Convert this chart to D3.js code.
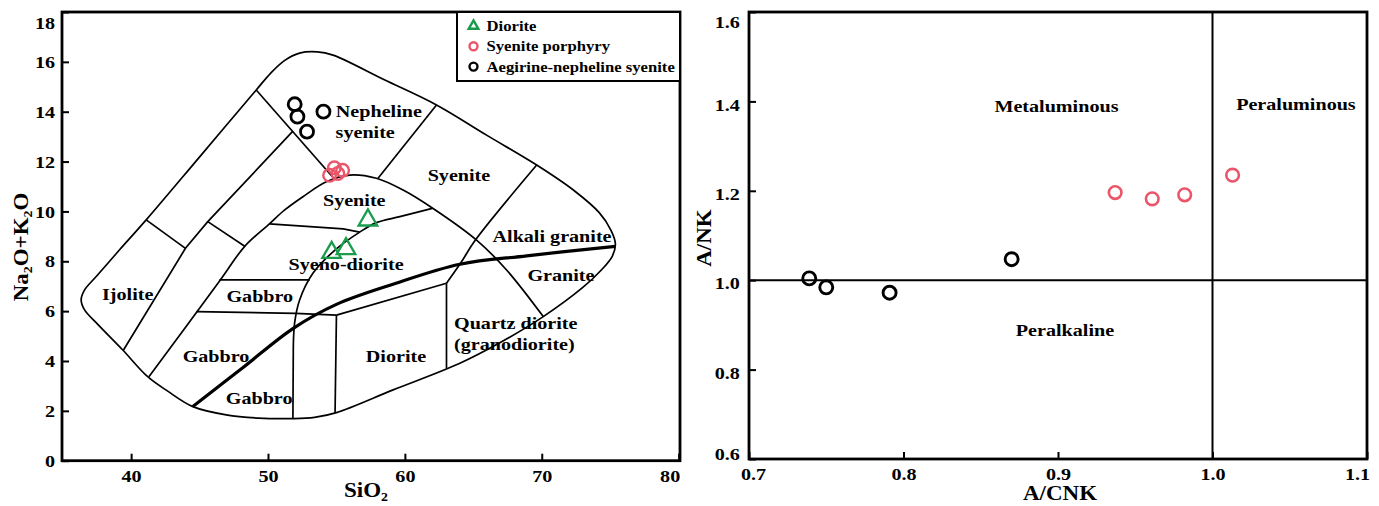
<!DOCTYPE html>
<html>
<head>
<meta charset="utf-8">
<script src="https://cdn.jsdelivr.net/npm/d3@7"></script>
<style>
body { margin: 0; background: #fff; }
text { font-family: "Liberation Serif", "Times New Roman", serif; font-weight: bold; fill: #000; }
</style>
</head>
<body>
<div id="chart"></div>
<script>
const width = 1379, height = 506;
const stretch = 1.15; // the source figure is a bit wider than tall

// ---- samples, TAS diagram (SiO2, Na2O+K2O)
const dioriteTAS = [[57.3, 9.65], [54.65, 8.35], [55.7, 8.5]];
const porphyryTAS = [[54.5, 11.45], [54.85, 11.75], [55.45, 11.65], [55.1, 11.52]];
const aegirineTAS = [[51.95, 14.3], [52.15, 13.8], [52.85, 13.2], [54.05, 14.0]];

// ---- samples, A/CNK vs A/NK
const porphyryACNK = [[0.937, 1.196], [0.961, 1.182], [0.982, 1.191], [1.013, 1.235]];
const aegirineACNK = [[0.739, 1.004], [0.750, 0.984], [0.791, 0.972], [0.870, 1.047]];

// ---- tick labels
const tasXTicks = [40, 50, 60, 70, 80];
const tasYTicks = [0, 2, 4, 6, 8, 10, 12, 14, 16, 18];
const acnkXTicks = [0.7, 0.8, 0.9, 1.0, 1.1];
const acnkYTicks = [0.6, 0.8, 1.0, 1.2, 1.4, 1.6];

// ---- TAS field boundaries (plutonic, Wilson 1989)
const outerBoundary = [[49.14,14.87],[50.2,15.55],[51.2,16.05],[52.3,16.35],[53.6,16.4],[54.75,16.27],[58.5,15.28],[62.31,14.27],[66.0,13.05],[69.63,11.86],[72.4,10.82],[74.2,9.95],[75.05,9.25],[75.38,8.7],[75.15,8.2],[74.3,7.62],[73.0,6.95],[70.11,5.78],[67.0,4.75],[64.02,3.91],[59.14,2.84],[55.0,1.93],[53.4,1.74],[51.82,1.69],[49.3,1.71],[46.95,1.84],[44.51,2.17],[42.7,2.78],[41.21,3.37],[39.39,4.44],[37.6,5.45],[36.6,6.05],[36.35,6.45],[36.6,6.85],[37.5,7.42],[39.14,8.45],[41.1,9.66],[45.1,12.25]];
const dome = [[70.11,5.78],[67.43,7.65],[65.24,8.85],[62.06,10.12],[59.87,10.86],[57.92,11.33],[55.97,11.46],[54.26,11.19],[52.55,10.59],[51.2,10.05],[50.1,9.5],[48.3,8.6],[46.45,7.2],[41.3,3.37]];
const syenoDioriteCurve = [[62.0,10.12],[59.63,9.79],[57.92,9.55],[56.7,9.17],[55.0,8.5],[53.28,7.52],[52.31,6.45],[51.95,5.55],[51.85,4.6]];
const straightLines = [
  [[49.14,14.87],[54.85,11.3]],
  [[62.31,14.27],[58.04,11.33]],
  [[51.82,13.22],[45.6,9.59],[43.97,8.52],[39.42,4.42]],
  [[41.1,9.66],[43.97,8.52]],
  [[45.6,9.59],[48.3,8.6]],
  [[50.1,9.5],[55.5,9.3],[56.7,9.17]],
  [[46.45,7.25],[53.05,7.25]],
  [[44.78,5.98],[52.0,5.91],[55.0,5.84]],
  [[55.0,5.84],[54.9,1.93]],
  [[55.0,5.84],[63.04,7.12]],
  [[63.04,7.12],[63.04,3.7]],
  [[51.85,4.6],[51.82,1.69]]
];
const alkaliGraniteLine = [[69.63,11.86],[65.15,8.85],[64.1,7.95],[63.04,7.12]];
const alkalineDivider = [[44.51,2.17],[48.2,3.75],[51.82,5.3],[55.0,6.27],[59.14,7.08],[64.02,7.88],[68.9,8.22],[75.38,8.6]];

const tasFieldLabels = [
  {t: "Nepheline", x: 58.1, y: 14.02}, {t: "syenite", x: 57.1, y: 13.2},
  {t: "Syenite", x: 63.95, y: 11.47}, {t: "Syenite", x: 56.3, y: 10.45},
  {t: "Alkali granite", x: 70.75, y: 9.0}, {t: "Granite", x: 71.4, y: 7.47},
  {t: "Syeno-diorite", x: 55.7, y: 7.9}, {t: "Gabbro", x: 49.4, y: 6.6},
  {t: "Ijolite", x: 39.75, y: 6.7}, {t: "Gabbro", x: 46.2, y: 4.2},
  {t: "Gabbro", x: 49.35, y: 2.53}, {t: "Diorite", x: 59.35, y: 4.2},
  {t: "Quartz diorite", x: 68.1, y: 5.52}, {t: "(granodiorite)", x: 68.0, y: 4.69}
];
const acnkFieldLabels = [
  {t: "Metaluminous", x: 0.899, y: 1.39}, {t: "Peraluminous", x: 1.054, y: 1.395},
  {t: "Peralkaline", x: 0.9045, y: 0.888}
];

const legendItems = [
  {name: "Diorite", kind: "triangle", color: "#1a9c4c"},
  {name: "Syenite porphyry", kind: "circle", color: "#ea5569"},
  {name: "Aegirine-nepheline syenite", kind: "circle", color: "#000"}
];
const colorOf = Object.fromEntries(legendItems.map(d => [d.name, d.color]));

const svg = d3.select("#chart").append("svg").attr("width", width).attr("height", height);

function label(g, x, y, s, size, anchor = "middle", rot = 0) {
  return g.append("text")
    .attr("transform", `translate(${x},${y}) rotate(${rot}) scale(${stretch},1)`)
    .attr("text-anchor", anchor).attr("dy", "0.35em").attr("font-size", size).text(s);
}

function styleAxis(g) {
  g.select(".domain").remove();
  g.attr("font-family", null).attr("font-size", 17.5);
  g.selectAll(".tick line").attr("stroke", "#000").attr("stroke-width", 2);
  g.selectAll(".tick text").attr("fill", "#000").attr("transform", `scale(${stretch},1)`);
}

// ============ left: TAS ============
const x1 = d3.scaleLinear().domain([34.95, 80.1]).range([62, 680]);
const y1 = d3.scaleLinear().domain([0, 18]).range([460.7, 12]);
const tas = svg.append("g");

const line1 = d3.line().x(d => x1(d[0])).y(d => y1(d[1]));
tas.append("path").attr("d", line1.curve(d3.curveCatmullRomClosed.alpha(0.5))(outerBoundary))
  .attr("fill", "none").attr("stroke", "#000").attr("stroke-width", 1.7);
[dome, syenoDioriteCurve, alkaliGraniteLine].forEach(l => {
  tas.append("path").attr("d", line1.curve(d3.curveCatmullRom.alpha(0.5))(l))
    .attr("fill", "none").attr("stroke", "#000").attr("stroke-width", 1.7);
});
straightLines.forEach(l => {
  tas.append("path").attr("d", line1.curve(d3.curveLinear)(l))
    .attr("fill", "none").attr("stroke", "#000").attr("stroke-width", 1.7);
});
tas.append("path").attr("d", line1.curve(d3.curveCatmullRom.alpha(0.5))(alkalineDivider))
  .attr("fill", "none").attr("stroke", "#000").attr("stroke-width", 3.2);

tasFieldLabels.forEach(d => label(tas, x1(d.x), y1(d.y), d.t, 17.5));

// axes
const gx1 = tas.append("g").attr("transform", "translate(0,460.7)")
  .call(d3.axisBottom(x1).tickValues(tasXTicks).tickFormat(d3.format("d")).tickSizeInner(-7).tickSizeOuter(0).tickPadding(9));
styleAxis(gx1);
gx1.selectAll(".tick text").filter(d => d === 80).attr("transform", `translate(-9,0) scale(${stretch},1)`);
const gy1 = tas.append("g").attr("transform", "translate(62,0)")
  .call(d3.axisLeft(y1).tickValues(tasYTicks).tickFormat(d3.format("d")).tickSizeInner(-7).tickSizeOuter(0).tickPadding(6));
styleAxis(gy1);
gy1.selectAll(".tick text").filter(d => d === 18).attr("transform", `translate(0,11) scale(${stretch},1)`);

tas.append("rect").attr("x", 62).attr("y", 12).attr("width", 618).attr("height", 448.7)
  .attr("fill", "none").attr("stroke", "#000").attr("stroke-width", 2.8);

// points
const tri = d3.symbol(d3.symbolTriangle, 150);
tas.selectAll(".dio").data(dioriteTAS).join("path")
  .attr("d", tri).attr("transform", d => `translate(${x1(d[0])},${y1(d[1])})`)
  .attr("fill", "none").attr("stroke", colorOf["Diorite"]).attr("stroke-width", 2.3);
tas.selectAll(".por").data(porphyryTAS).join("circle")
  .attr("cx", d => x1(d[0])).attr("cy", d => y1(d[1])).attr("r", 6.3)
  .attr("fill", "none").attr("stroke", colorOf["Syenite porphyry"]).attr("stroke-width", 2.4);
tas.selectAll(".aeg").data(aegirineTAS).join("circle")
  .attr("cx", d => x1(d[0])).attr("cy", d => y1(d[1])).attr("r", 6.5)
  .attr("fill", "none").attr("stroke", colorOf["Aegirine-nepheline syenite"]).attr("stroke-width", 2.8);

// axis titles
const t1 = tas.append("text").attr("transform", `translate(366,497) scale(${stretch},1)`)
  .attr("text-anchor", "middle").attr("font-size", 20);
t1.append("tspan").text("SiO");
t1.append("tspan").text("2").attr("font-size", 12).attr("dy", 4);
const t2 = tas.append("text").attr("transform", `translate(28,247) rotate(-90) scale(${stretch},1)`)
  .attr("text-anchor", "middle").attr("font-size", 20);
t2.append("tspan").text("Na");
t2.append("tspan").text("2").attr("font-size", 12).attr("dy", 4);
t2.append("tspan").text("O+K").attr("dy", -4);
t2.append("tspan").text("2").attr("font-size", 12).attr("dy", 4);
t2.append("tspan").text("O").attr("dy", -4);

// legend
const lg = tas.append("g");
lg.append("rect").attr("x", 457).attr("y", 12).attr("width", 223).attr("height", 69)
  .attr("fill", "#fff").attr("stroke", "#000").attr("stroke-width", 2);
legendItems.forEach((d, i) => {
  const yy = 26 + i * 20.3;
  if (d.kind === "triangle") {
    lg.append("path").attr("d", d3.symbol(d3.symbolTriangle, 40)())
      .attr("transform", `translate(473.5,${yy})`)
      .attr("fill", "none").attr("stroke", d.color).attr("stroke-width", 2.4);
  } else {
    lg.append("circle").attr("cx", 473.5).attr("cy", yy).attr("r", 4)
      .attr("fill", "none").attr("stroke", d.color).attr("stroke-width", 2.4);
  }
  label(lg, 486.5, yy, d.name, 14.5, "start");
});

// ============ right: A/CNK vs A/NK ============
const x2 = d3.scaleLinear().domain([0.7, 1.1]).range([749, 1367]);
const y2 = d3.scaleLinear().domain([0.6, 1.6]).range([459, 12]);
const ac = svg.append("g");

ac.append("line").attr("x1", x2(0.7)).attr("x2", x2(1.1)).attr("y1", y2(1.0)).attr("y2", y2(1.0))
  .attr("stroke", "#000").attr("stroke-width", 2);
ac.append("line").attr("x1", x2(1.0)).attr("x2", x2(1.0)).attr("y1", y2(0.6)).attr("y2", y2(1.6))
  .attr("stroke", "#000").attr("stroke-width", 2);

acnkFieldLabels.forEach(d => label(ac, x2(d.x), y2(d.y), d.t, 17.5));

const gx2 = ac.append("g").attr("transform", "translate(0,459)")
  .call(d3.axisBottom(x2).tickValues(acnkXTicks).tickFormat(d3.format(".1f")).tickSizeInner(-7).tickSizeOuter(0).tickPadding(9));
styleAxis(gx2);
gx2.selectAll(".tick text").filter(d => d === 1.1).attr("transform", `translate(-10,0) scale(${stretch},1)`);
gx2.selectAll(".tick text").filter(d => d === 0.7).attr("transform", `translate(4,0) scale(${stretch},1)`);
const gy2 = ac.append("g").attr("transform", "translate(749,0)")
  .call(d3.axisLeft(y2).tickValues(acnkYTicks).tickFormat(d3.format(".1f")).tickSizeInner(-7).tickSizeOuter(0).tickPadding(8));
styleAxis(gy2);
gy2.selectAll(".tick text").filter(d => d === 1.6).attr("transform", `translate(0,10) scale(${stretch},1)`);
gy2.selectAll(".tick text").filter(d => d === 0.6).attr("transform", `translate(0,-5) scale(${stretch},1)`);
gy2.selectAll(".tick text").filter(d => d > 0.6 && d < 1.6).attr("transform", `translate(0,3) scale(${stretch},1)`);

ac.append("rect").attr("x", 749).attr("y", 12).attr("width", 618).attr("height", 447)
  .attr("fill", "none").attr("stroke", "#000").attr("stroke-width", 2.8);

ac.selectAll(".por").data(porphyryACNK).join("circle")
  .attr("cx", d => x2(d[0])).attr("cy", d => y2(d[1])).attr("r", 6.3)
  .attr("fill", "none").attr("stroke", colorOf["Syenite porphyry"]).attr("stroke-width", 2.6);
ac.selectAll(".aeg").data(aegirineACNK).join("circle")
  .attr("cx", d => x2(d[0])).attr("cy", d => y2(d[1])).attr("r", 6.5)
  .attr("fill", "none").attr("stroke", colorOf["Aegirine-nepheline syenite"]).attr("stroke-width", 2.9);

label(ac, 1060, 493, "A/CNK", 20);
label(ac, 704, 238, "A/NK", 20, "middle", -90);
</script>
</body>
</html>
